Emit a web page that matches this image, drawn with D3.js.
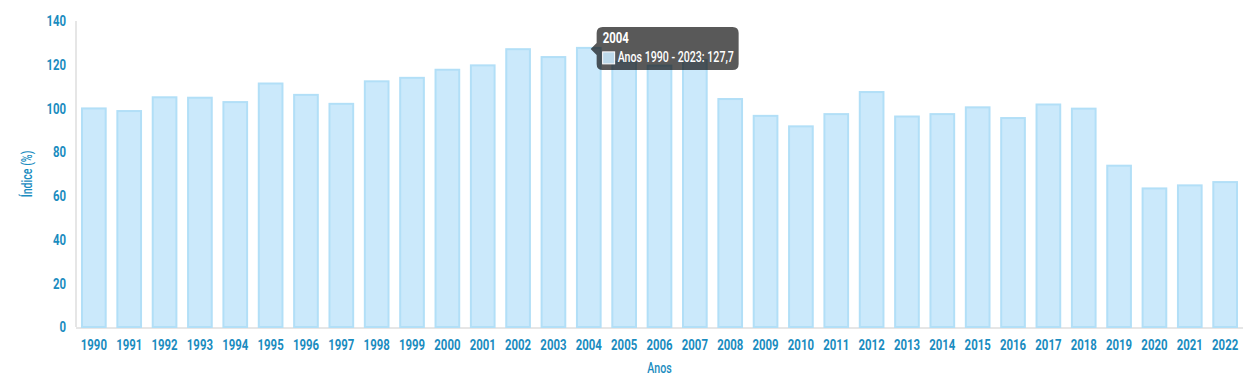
<!DOCTYPE html>
<html>
<head>
<meta charset="utf-8">
<script src="https://cdn.jsdelivr.net/npm/d3@7"></script>
<style>
  body { margin: 0; background: #fff; }
  svg text { font-family: Roboto, "Noto Sans", sans-serif; }
</style>
</head>
<body>
<svg id="chart" width="1258" height="391"></svg>
<script>
const years = ['1990','1991','1992','1993','1994','1995','1996','1997','1998','1999','2000','2001','2002','2003','2004','2005','2006','2007','2008','2009','2010','2011','2012','2013','2014','2015','2016','2017','2018','2019','2020','2021','2022']
const values = [100, 98.8, 105.1, 104.9, 102.9, 111.4, 106.2, 102.1, 112.4, 114, 117.7, 119.7, 127.1, 123.5, 127.7, 121.4, 119.6, 122.1, 104.3, 96.6, 91.8, 97.4, 107.5, 96.3, 97.4, 100.5, 95.6, 101.8, 99.9, 73.8, 63.4, 64.8, 66.3]
const yTicks = [0, 20, 40, 60, 80, 100, 120, 140]
const seriesName = 'Anos 1990 - 2023'
const hoverYear = '2004'

const svg = d3.select('#chart')
const margin = { top: 21, right: 15, bottom: 64, left: 76 }
const W = 1258, H = 391
const blue = '#1a8cc0'
const SX = 0.76  // squeeze text to look like the condensed face of the original

// squeeze text horizontally, keeping its anchor point where it was
function narrow(sel) {
  sel.each(function() {
    const t = d3.select(this)
    const x0 = +t.attr('x') || 0
    t.attr('x', x0 / SX).attr('transform', `scale(${SX},1)`)
  })
}

const x = d3.scaleBand().domain(years).range([margin.left, W - margin.right]).paddingInner(0.33).paddingOuter(0.17)
const y = d3.scaleLinear().domain([0, 140]).range([H - margin.bottom, margin.top])

// axis lines
svg.append('line')
  .attr('x1', margin.left).attr('x2', margin.left)
  .attr('y1', y(140)).attr('y2', y(0))
  .attr('stroke', '#e6e6e6').attr('stroke-width', 2)
svg.append('line')
  .attr('x1', margin.left).attr('x2', W - margin.right)
  .attr('y1', y(0) + 1).attr('y2', y(0) + 1)
  .attr('stroke', '#e6e6e6').attr('stroke-width', 2)

// bars
svg.append('g').selectAll('rect')
  .data(values)
  .join('rect')
  .attr('x', (d, i) => x(years[i]))
  .attr('y', d => y(d))
  .attr('width', x.bandwidth())
  .attr('height', d => y(0) - y(d))
  .attr('fill', '#cbe9fb')
  .attr('stroke', '#b2dff7')
  .attr('stroke-width', 2)

// y axis
const yAxis = d3.axisLeft(y).tickValues(yTicks).tickSize(0).tickPadding(10)
const gy = svg.append('g').attr('transform', `translate(${margin.left},0)`).call(yAxis)
gy.select('.domain').remove()
gy.selectAll('text').attr('fill', blue).attr('font-size', 15).attr('font-weight', 'bold').call(narrow)

// x axis
const xAxis = d3.axisBottom(x).tickSize(0).tickPadding(12)
const gx = svg.append('g').attr('transform', `translate(0,${y(0)})`).call(xAxis)
gx.select('.domain').remove()
gx.selectAll('text').attr('fill', blue).attr('font-size', 15).attr('font-weight', 'bold').call(narrow)

// axis titles
svg.append('text')
  .attr('x', (margin.left + W - margin.right) / 2).attr('y', 373)
  .attr('text-anchor', 'middle')
  .attr('fill', blue).attr('font-size', 14).attr('font-weight', 500)
  .text('Anos').call(narrow)
svg.append('text')
  .attr('transform', `translate(32,${(y(0) + y(140)) / 2}) rotate(-90) scale(${SX},1)`)
  .attr('text-anchor', 'middle')
  .attr('fill', blue).attr('font-size', 14).attr('font-weight', 500)
  .text('Índice (%)')

// tooltip
const hi = years.indexOf(hoverYear)
const tx = x(hoverYear) + x.bandwidth() - 4
const ty = y(values[hi]) - 21
const tip = svg.append('g').attr('transform', `translate(${tx},${ty})`)
const tw = 142, th = 43
tip.append('path')
  .attr('d', `M6,0 H${tw - 6} Q${tw},0 ${tw},6 V${th - 6} Q${tw},${th} ${tw - 6},${th} H6 Q0,${th} 0,${th - 6} V28 L-6,22 L0,16 V6 Q0,0 6,0 Z`)
  .attr('fill', 'rgba(0,0,0,0.65)')
tip.append('text')
  .attr('x', 6).attr('y', 16)
  .attr('fill', '#fff').attr('font-size', 15).attr('font-weight', 'bold')
  .text(hoverYear).call(narrow)
tip.append('rect')
  .attr('x', 6).attr('y', 25).attr('width', 12).attr('height', 12)
  .attr('fill', '#bcd9ea').attr('stroke', '#fff').attr('stroke-width', 1)
tip.append('text')
  .attr('x', 21).attr('y', 35)
  .attr('fill', '#fff').attr('font-size', 14).attr('font-weight', 500)
  .text(`${seriesName}: ${String(values[hi]).replace('.', ',')}`).call(narrow)
</script>
</body>
</html>
